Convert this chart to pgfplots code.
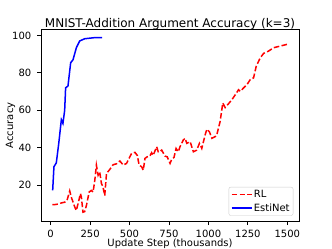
\documentclass[border=0pt]{standalone}
\usepackage{fontspec}
\setmainfont{DejaVu Sans}
\usepackage{pgfplots}
\pgfplotsset{compat=1.18}
\begin{document}
\begin{tikzpicture}
\path[use as bounding box] (-41bp,-27.3bp) rectangle (291bp,221.7bp);
\begin{axis}[
  at={(0,0)}, anchor=south west,
  scale only axis, width=258bp, height=192.7bp,
  xmin=-61, xmax=1574, ymin=0.6, ymax=103.4,
  font=\fontsize{10bp}{12bp}\selectfont,
  /pgf/number format/assume math mode=true,
  xtick={0,250,500,750,1000,1250,1500},
  ytick={20,40,60,80,100},
  scaled x ticks=false,
  xticklabel style={/pgf/number format/1000 sep={}},
  tick pos=left, tick align=outside,
  major tick length=3.5bp,
  every tick/.style={black, line width=0.8bp},
  axis line style={line width=0.8bp},
  xticklabel style={anchor=base, yshift=-12.3bp, inner sep=0pt},
  yticklabel style={anchor=east, xshift=-6bp, inner sep=0pt},
  every axis title/.style={at={(axis description cs:0.5,1)}, anchor=base, yshift=1.5bp, inner sep=0pt, font=\fontsize{12bp}{14bp}\selectfont},
  title={MNIST-Addition Argument Accuracy (k=3)},
  every axis x label/.style={at={(axis description cs:0.5,-0.1287)}, anchor=base, inner sep=0pt},
  every axis y label/.style={at={(axis description cs:-0.1085,0.5)}, rotate=90, anchor=base, inner sep=0pt},
  xlabel={Update Step (thousands)},
  ylabel={Accuracy},
  legend cell align=left,
  legend style={at={(axis description cs:1,0)}, anchor=south east, xshift=-5.7bp, yshift=6bp,
    draw=black!20, rounded corners=2bp, fill=white, fill opacity=0.8, text opacity=1,
    inner xsep=2bp, inner ysep=1.5bp, row sep=1.5bp,
    nodes={inner sep=1.5bp}},
  legend image code/.code={\draw[#1] (0bp,0bp) -- (20bp,0bp);},
]
\addplot[red, line width=1.5bp, dash pattern=on 5.55bp off 2.4bp] coordinates {
(11,9.7) (36,9.8) (68,10.6) (89,11) (104,12) (121,17) (131,13.7) (153,8.4) (163,6.6) (174,10.3)
(189,15.6) (195,13.7) (205,5.7) (216,6) (227,9.3) (244,16.4) (258,17.3) (269,16.4) (280,22.7)
(290,30.8) (301,25.4) (311,27.2) (322,21) (332,19.1) (343,14.5) (354,26.3) (375,28.5) (396,31)
(418,31.5) (439,33) (460,30.8) (481,31.7) (491,33.4) (513,37) (534,37.6) (549,36) (561,30.8)
(577,29.9) (587,28) (598,34.4) (612,35.2) (629,35.6) (640,37.4) (650,36) (672,40.6) (682,37.9)
(693,37.9) (704,38.8) (725,35.6) (739,35.2) (757,31.7) (767,33.8) (782,34.9) (795,39.7)
(809,37.9) (820,40.6) (841,44.2) (852,45.1) (863,42.4) (884,43.3) (905,37.9) (926,38.8)
(943,42.4) (958,39.7) (979,46.9) (990,49.9) (1006,48.6) (1022,45.1) (1043,46) (1053,46.9)
(1074,54) (1091,63.9) (1106,61.5) (1127,63.5) (1149,65.7) (1170,68.3) (1191,71) (1202,70.1)
(1222,71.9) (1244,73.7) (1265,76.4) (1286,77.3) (1303,83.5) (1318,86.2) (1329,88.1) (1350,90.4)
(1381,91.6) (1413,93.4) (1456,94.3) (1498,95.2)
};
\addlegendentry{RL}
\addplot[blue, line width=1.5bp] coordinates {
(13,17.3) (21,29.9) (36,32) (51,42) (68,55) (78,53) (89,60) (95,72) (110,73) (127,85.4)
(142,87) (163,93.4) (184,97) (216,98.2) (280,98.8) (326,98.8)
};
\addlegendentry{EstiNet}
\end{axis}
\end{tikzpicture}
\end{document}
